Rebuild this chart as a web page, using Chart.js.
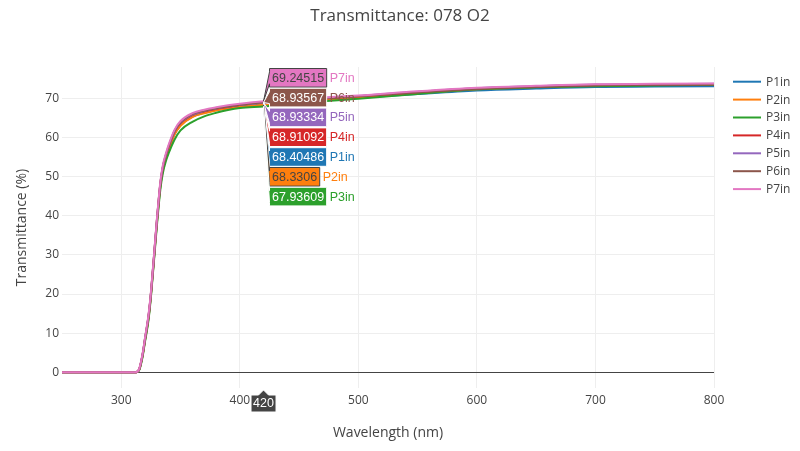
<!DOCTYPE html>
<html>
<head>
<meta charset="utf-8">
<script src="https://cdn.jsdelivr.net/npm/chart.js@4.4.1/dist/chart.umd.min.js"></script>
<style>
  html, body { margin: 0; padding: 0; background: #fff; }
  #wrap { width: 800px; height: 451px; }
</style>
</head>
<body>
<div id="wrap"><canvas id="chart" width="800" height="451"></canvas></div>
<script>
// wavelengths (nm) the curves were read at
const wavelengths = [250, 300, 312, 315, 318, 320, 323, 325, 328, 330, 333, 335, 338, 340, 345, 350, 360, 370, 380, 390, 400, 420, 450, 500, 550, 600, 650, 700, 750, 800];

const p1in = [0, 0, 0, 0.6, 4.4, 8.2, 14.0, 19.7, 30.6, 38.0, 47.6, 51.6, 55.0, 56.9, 60.9, 63.1, 65.3, 66.3, 67.0, 67.5, 67.9, 68.40486, 69.1, 70.1, 71.1, 72.0, 72.5, 72.9, 73.0, 73.1];
const p2in = [0, 0, 0, 0.6, 4.3, 8.1, 13.9, 19.6, 30.5, 37.9, 47.5, 51.5, 54.9, 56.8, 60.8, 63.0, 65.2, 66.2, 66.9, 67.4, 67.8, 68.3306, 69.1, 70.2, 71.3, 72.3, 72.9, 73.3, 73.5, 73.6];
const p3in = [0, 0, 0, 0.5, 4.0, 7.8, 13.4, 19.2, 30.0, 37.3, 46.8, 50.8, 54.3, 56.0, 59.5, 61.8, 64.0, 65.4, 66.3, 67.0, 67.5, 67.93609, 68.8, 69.9, 71.1, 72.3, 72.8, 73.1, 73.3, 73.4];
const p4in = [0, 0, 0, 0.7, 4.5, 8.4, 14.3, 20.0, 31.0, 38.5, 48.2, 52.2, 55.7, 57.5, 61.5, 63.7, 65.8, 66.7, 67.3, 67.8, 68.3, 68.91092, 69.6, 70.5, 71.6, 72.5, 73.0, 73.4, 73.5, 73.6];
const p5in = [0, 0, 0, 0.7, 4.6, 8.5, 14.4, 20.1, 31.1, 38.6, 48.3, 52.3, 55.8, 57.7, 61.6, 63.8, 65.9, 66.8, 67.4, 67.9, 68.35, 68.93334, 69.7, 70.6, 71.7, 72.6, 73.1, 73.5, 73.6, 73.7];
const p6in = [0, 0, 0, 0.7, 4.6, 8.6, 14.5, 20.2, 31.2, 38.7, 48.4, 52.4, 55.9, 57.8, 61.7, 63.9, 66.0, 66.9, 67.45, 67.9, 68.35, 68.93567, 69.6, 70.5, 71.5, 72.4, 72.9, 73.3, 73.4, 73.5];
const p7in = [0, 0, 0, 0.8, 4.8, 8.8, 14.8, 20.5, 31.5, 39.0, 48.8, 52.8, 56.3, 58.2, 62.0, 64.2, 66.2, 67.1, 67.7, 68.2, 68.6, 69.24515, 69.9, 70.7, 71.8, 72.7, 73.2, 73.6, 73.7, 73.8];

const seriesNames = ["P1in", "P2in", "P3in", "P4in", "P5in", "P6in", "P7in"];
const seriesValues = [p1in, p2in, p3in, p4in, p5in, p6in, p7in];
const seriesColors = ["#1f77b4", "#ff7f0e", "#2ca02c", "#d62728", "#9467bd", "#8c564b", "#e377c2"];

// the hover snapshot shown in the picture
const hoverWavelength = 420;
const hoverValues = [68.40486, 68.3306, 67.93609, 68.91092, 68.93334, 68.93567, 69.24515];

const chartTitle = "Transmittance: 078 O2";

const TEXT = "#444";
const FONT = "'Open Sans', verdana, arial, sans-serif";
const HOVER_FONT = "Arial, 'Liberation Sans', sans-serif";

// plotly-ish contrast: dark text on light backgrounds
const isLight = (hex) => {
  const r = parseInt(hex.slice(1, 3), 16);
  const g = parseInt(hex.slice(3, 5), 16);
  const b = parseInt(hex.slice(5, 7), 16);
  return (r * 299 + g * 587 + b * 114) / 1000 >= 128;
};

const hoverPlugin = {
  id: "hoverLabels",
  afterDatasetsDraw(chart) {
    const { ctx, chartArea, scales } = chart;
    const x = scales.x.getPixelForValue(hoverWavelength);
    const order = hoverValues.map((v, i) => i).sort((a, b) => hoverValues[b] - hoverValues[a]);

    ctx.save();
    ctx.font = "12.5px " + HOVER_FONT;
    ctx.textBaseline = "middle";
    ctx.lineWidth = 1;

    order.forEach((idx, k) => {
      const py = scales.y.getPixelForValue(hoverValues[idx]);
      const cy = chartArea.top + 10.8 + k * 19.8;
      const text = String(hoverValues[idx]);
      const w = ctx.measureText(text).width + 5;
      const h = 18.6;
      const bx = x + 6;
      const bg = seriesColors[idx];
      const fg = isLight(bg) ? TEXT : "#fff";

      ctx.beginPath();
      ctx.moveTo(x, py);
      ctx.lineTo(bx, cy + 6);
      ctx.lineTo(bx, cy + h / 2);
      ctx.lineTo(bx + w, cy + h / 2);
      ctx.lineTo(bx + w, cy - h / 2);
      ctx.lineTo(bx, cy - h / 2);
      ctx.lineTo(bx, cy - 6);
      ctx.closePath();
      ctx.fillStyle = bg;
      ctx.fill();
      ctx.strokeStyle = fg;
      ctx.stroke();

      ctx.fillStyle = fg;
      ctx.textAlign = "left";
      ctx.fillText(text, bx + 2.5, cy + 0.5);

      ctx.fillStyle = bg;
      ctx.fillText(seriesNames[idx], bx + w + 3, cy + 0.5);
    });

    // x value label under the axis
    const tipY = chartArea.bottom + 2;
    const lw = 25;
    const lh = 17;
    ctx.beginPath();
    ctx.moveTo(x, tipY);
    ctx.lineTo(x + 5, tipY + 5);
    ctx.lineTo(x + lw / 2, tipY + 5);
    ctx.lineTo(x + lw / 2, tipY + 5 + lh);
    ctx.lineTo(x - lw / 2, tipY + 5 + lh);
    ctx.lineTo(x - lw / 2, tipY + 5);
    ctx.lineTo(x - 5, tipY + 5);
    ctx.closePath();
    ctx.fillStyle = TEXT;
    ctx.fill();
    ctx.strokeStyle = "#fff";
    ctx.stroke();
    ctx.fillStyle = "#fff";
    ctx.textAlign = "center";
    ctx.fillText(String(hoverWavelength), x, tipY + 5 + lh / 2 + 0.5);
    ctx.restore();
  },
  afterDraw(chart) {
    const { ctx, chartArea } = chart;
    ctx.save();
    // title centred on the whole canvas
    ctx.font = "17px " + FONT;
    ctx.fillStyle = TEXT;
    ctx.textAlign = "center";
    ctx.textBaseline = "middle";
    ctx.fillText(chartTitle, chart.width / 2, 16);

    // legend on the right, plotly style
    ctx.font = "12px " + FONT;
    ctx.textAlign = "left";
    seriesNames.forEach((name, i) => {
      const y = chartArea.top + 14.7 + i * 17.9;
      ctx.strokeStyle = seriesColors[i];
      ctx.lineWidth = 2;
      ctx.beginPath();
      ctx.moveTo(733, y);
      ctx.lineTo(761, y);
      ctx.stroke();
      ctx.fillStyle = TEXT;
      ctx.fillText(name, 766, y + 0.5);
    });
    ctx.restore();
  },
};

const datasets = seriesNames.map((name, i) => ({
  label: name,
  data: wavelengths.map((w, j) => ({ x: w, y: seriesValues[i][j] })),
  borderColor: seriesColors[i],
  backgroundColor: seriesColors[i],
  borderWidth: 2,
  pointRadius: 0,
  cubicInterpolationMode: "monotone",
  order: seriesNames.length - 1 - i,
}));

new Chart(document.getElementById("chart"), {
  type: "line",
  data: { datasets },
  options: {
    responsive: false,
    animation: false,
    layout: { padding: { top: 67, right: 86, left: 0, bottom: 0 } },
    plugins: {
      legend: { display: false },
      tooltip: { enabled: false },
      title: { display: false },
    },
    scales: {
      x: {
        type: "linear",
        min: 250,
        max: 800,
        afterFit: (scale) => { scale.height = 63; },
        border: { display: false },
        grid: { color: "#eee", drawTicks: false },
        ticks: {
          stepSize: 100,
          includeBounds: false,
          padding: 5,
          color: TEXT,
          font: { family: FONT, size: 12 },
          maxRotation: 0,
        },
        title: {
          display: true,
          text: "Wavelength (nm)",
          color: TEXT,
          font: { family: FONT, size: 14 },
          padding: { top: 0, bottom: 9.6 },
        },
      },
      y: {
        min: -4,
        max: 78,
        afterFit: (scale) => { scale.width = 62; },
        border: { display: false },
        grid: {
          drawTicks: false,
          color: (c) => (c.tick && c.tick.value === 0 ? TEXT : "#eee"),
        },
        ticks: {
          stepSize: 10,
          includeBounds: false,
          padding: 3,
          color: TEXT,
          font: { family: FONT, size: 12 },
        },
        title: {
          display: true,
          text: "Transmittance (%)",
          color: TEXT,
          font: { family: FONT, size: 14 },
          padding: { top: 13.6, bottom: 0 },
        },
      },
    },
  },
  plugins: [hoverPlugin],
});
</script>
</body>
</html>
